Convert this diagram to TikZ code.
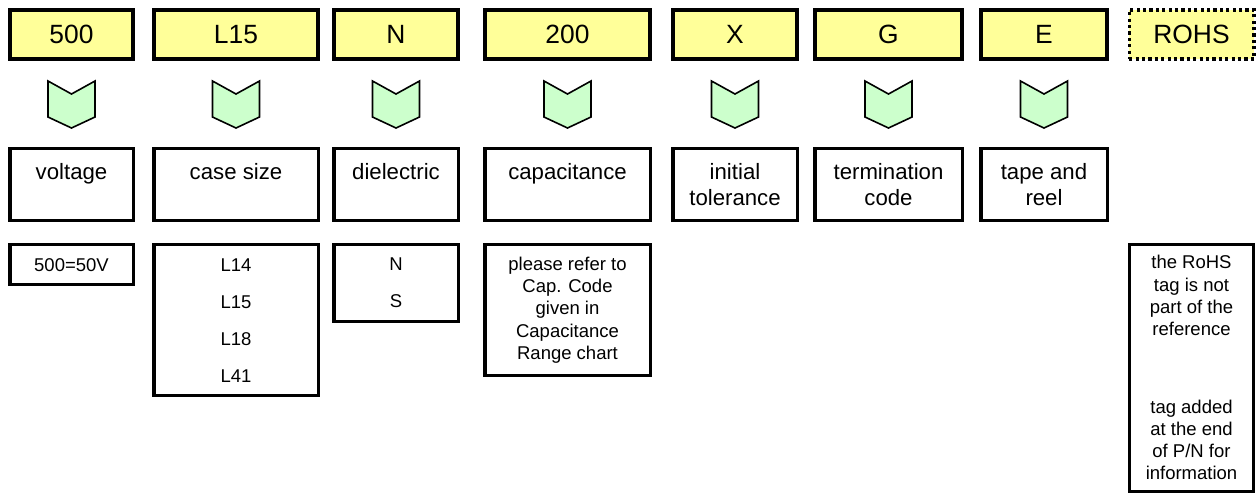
\documentclass[tikz,border=0pt]{standalone}
\usepackage{fontspec}
\setmainfont{Liberation Sans}
\usetikzlibrary{positioning}
\definecolor{codeyellow}{HTML}{FFFF99}
\definecolor{arrowgreen}{HTML}{CCFFCC}

\begin{document}
\begin{tikzpicture}[x=0.5pt,y=-0.5pt,line join=miter,
		codebox/.style={draw,fill=codeyellow,line width=2pt,inner sep=0pt,minimum height=24.5pt,font=\fontsize{13.2}{15}\selectfont},
		fieldbox/.style={draw,line width=1.7pt,inner sep=0pt,minimum height=35.8pt,align=center,font=\fontsize{11.1}{13}\selectfont},
		infobox/.style={draw,line width=1.7pt,inner sep=0pt,align=center,font=\fontsize{9.25}{11.15}\selectfont},
		chevron/.style={draw,fill=arrowgreen,line width=0.8pt}]
		\useasboundingbox (0,0) rectangle (1259,495);
		% code letters, chevrons, field names
		\foreach \i/\x/\w/\code/\field in {1/71.5/61.7/500/{voltage\\\mbox{}},
			2/236/82.2/L15/{case size\\\mbox{}},
			3/396/62.2/N/{dielectric\\\mbox{}},
			4/567.5/82.7/200/{capacitance\\\mbox{}},
			5/735/62.2/X/{initial\\tolerance},
			6/888.5/73.7/G/{termination\\code},
			7/1044/63.2/E/{tape and\\reel}}{
			\node[codebox,minimum width=\w pt] (t\i) at (\x,34.5) {\code};
			\draw[chevron,shift={(t\i.south)}] (-23.5,20) -- (0,33) -- (23.5,20) -- (23.5,56) -- (0,67) -- (-23.5,56) -- cycle;
			\node[fieldbox,minimum width=\w pt,below=43pt of t\i] (m\i) {\field};
		}
		\node[codebox,minimum width=62.4pt,line width=1.6pt,dash pattern=on 1.6pt off 1.6pt] (t8) at (1191.5,34.5) {ROHS};
	
		% code values
		\node[infobox,minimum width=61.7pt,minimum height=20pt,below=10.5pt of m1] (b1) {500=50V};
		\node[infobox,minimum width=82.2pt,minimum height=75.5pt,below=10.5pt of m2,font=\fontsize{9.25}{18.5}\selectfont] (b2) {L14\\L15\\L18\\L41};
		\node[infobox,minimum width=62.2pt,minimum height=38.5pt,below=10.5pt of m3,font=\fontsize{9.25}{18.5}\selectfont] (b3) {N\\S};
		\node[infobox,minimum width=82.7pt,minimum height=65.5pt,below=10.5pt of m4] (b4) {please refer to\\Cap. Code\\given in\\Capacitance\\Range chart};
		\node[infobox,minimum width=62.2pt,minimum height=123.5pt,below=91pt of t8] (b8) {the RoHS\\tag is not\\part of the\\reference\\[27.5pt]tag added\\at the end\\of P/N for\\information};
	\end{tikzpicture}
\end{document}
